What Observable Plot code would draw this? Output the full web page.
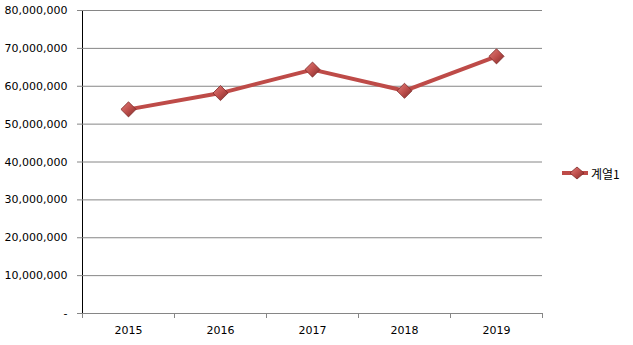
<!DOCTYPE html>
<html>
<head>
<meta charset="utf-8">
<script src="https://cdn.jsdelivr.net/npm/d3@7"></script>
<script src="https://cdn.jsdelivr.net/npm/@observablehq/plot@0.6"></script>
<style>
  html, body { margin: 0; padding: 0; background: #fff; }
  #wrap { position: relative; width: 633px; height: 345px; }
  #legend { position: absolute; left: 562px; top: 164px; display: flex; align-items: center;
            font-family: "Noto Sans CJK KR", "DejaVu Sans", sans-serif; font-size: 12px; color: #000; }
  #legend span { margin-left: 3px; }
</style>
</head>
<body>
<div id="wrap"></div>
<script>
const years = ["2015", "2016", "2017", "2018", "2019"];
const values = [53900000, 58200000, 64400000, 58800000, 67900000];
const yTicks = [0, 10000000, 20000000, 30000000, 40000000, 50000000, 60000000, 70000000, 80000000];
const seriesName = "계열1";

const W = 633, H = 345, ML = 82, MR = 91, MT = 10, MB = 32;
const half = (W - ML - MR) / years.length / 2;
const data = years.map((y, i) => ({year: y, value: values[i]}));
const fmt = d3.format(",");

const chart = Plot.plot({
  width: W, height: H,
  marginLeft: ML, marginRight: MR, marginTop: MT, marginBottom: MB,
  style: {fontFamily: "DejaVu Sans", fontSize: "11px", color: "#000", background: "#fff", overflow: "visible"},
  x: {type: "band", domain: years, padding: 0, tickSize: 0, tickPadding: 13, label: null},
  y: {domain: [0, 80000000], ticks: yTicks, tickFormat: d => d === 0 ? "-" : fmt(d),
      tickSize: 5, tickPadding: 10, label: null, line: true},
  marks: [
    Plot.ruleY(yTicks, {stroke: "#868686", strokeWidth: 1}),
    Plot.ruleX(years, {x: d => d, y1: 0, y2: 0, dx: -half, insetBottom: -5, stroke: "#868686"}),
    Plot.ruleX(years.slice(-1), {x: d => d, y1: 0, y2: 0, dx: half, insetBottom: -5, stroke: "#868686"}),
    Plot.line(data, {x: "year", y: "value", stroke: "#BE4B48", strokeWidth: 4, strokeLinejoin: "round"}),
    Plot.dot(data, {x: "year", y: "value", symbol: "diamond2", r: 6.8, fill: "url(#mkgrad)", stroke: "#7E2A28", strokeWidth: 0.8})
  ]
});

const ns = "http://www.w3.org/2000/svg";
const defs = document.createElementNS(ns, "defs");
defs.innerHTML = `<linearGradient id="mkgrad" x1="0" y1="0" x2="1" y2="1">
  <stop offset="0" stop-color="#E07F7B"/><stop offset="0.5" stop-color="#C0504D"/><stop offset="1" stop-color="#7E2A28"/></linearGradient>`;
chart.insertBefore(defs, chart.firstChild);
chart.querySelectorAll("[aria-label='y-axis'] path, [aria-label='x-axis'] path").forEach(p => p.setAttribute("stroke", "#868686"));
chart.querySelectorAll("[aria-label='y-axis'] line, [aria-label='y-axis tick']").forEach(p => p.setAttribute("stroke", "#868686"));

const wrap = document.getElementById("wrap");
wrap.appendChild(chart);

const legend = document.createElement("div");
legend.id = "legend";
legend.innerHTML = `<svg width="26" height="18"><defs><linearGradient id="lggrad" x1="0" y1="0" x2="1" y2="1">
  <stop offset="0" stop-color="#E07F7B"/><stop offset="0.5" stop-color="#C0504D"/><stop offset="1" stop-color="#7E2A28"/></linearGradient></defs>
  <line x1="0" y1="9" x2="26" y2="9" stroke="#BE4B48" stroke-width="4"/>
  <polygon points="15,3 22,9 15,15 8,9" fill="url(#lggrad)" stroke="#7E2A28" stroke-width="0.8"/></svg><span>${seriesName}</span>`;
wrap.appendChild(legend);
</script>
</body>
</html>
